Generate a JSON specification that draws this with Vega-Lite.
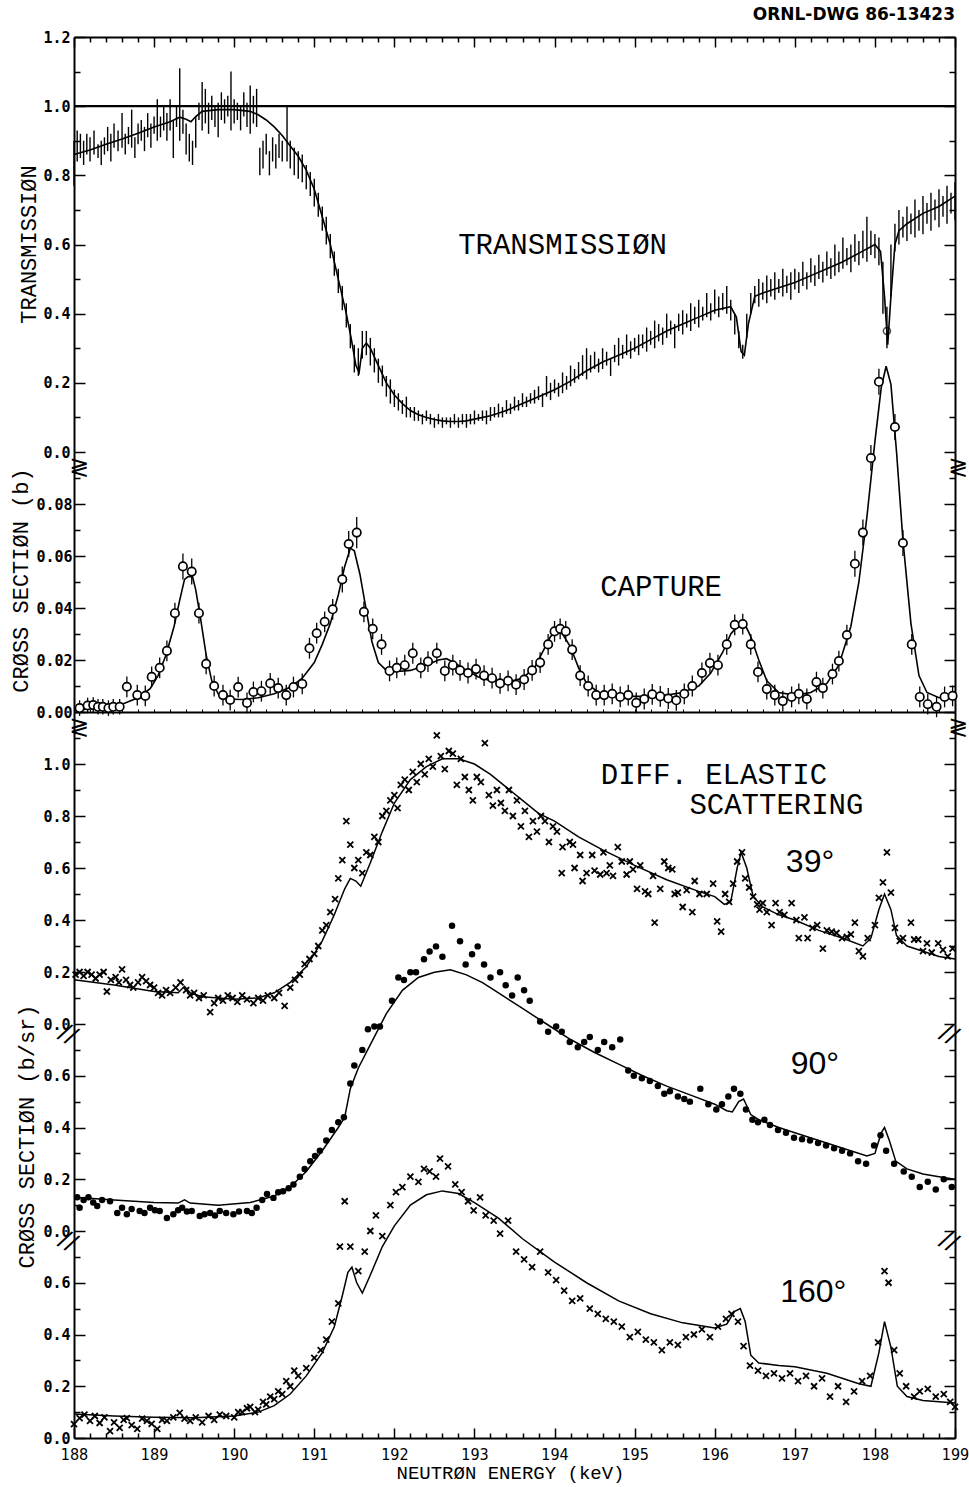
{
"$schema":"https://vega.github.io/schema/vega-lite/v6.json",
"background":"white",
"padding":{"left":8,"right":12,"top":6,"bottom":2},
"title":{"text":"ORNL-DWG 86-13423","anchor":"end","frame":"group","font":"DejaVu Sans","fontWeight":"bold","fontSize":17,"color":"black","offset":6},
"spacing":0,
"bounds":"flush",
"config":{"view":{"stroke":null},"axis":{"grid":false,"domainColor":"black","domainWidth":2,"tickColor":"black","tickWidth":1.5,"labelColor":"black","titleColor":"black","labelFont":"DejaVu Sans Mono","labelFontWeight":"bold","labelFontSize":15,"titleFont":"Liberation Mono","titleFontWeight":"normal","titleFontSize":22,"labelFlush":false,"labelOverlap":false}},
"datasets":{
"trans_fit":[{"E":188.0,"T":0.86},{"E":188.2,"T":0.873},{"E":188.4,"T":0.89},{"E":188.6,"T":0.905},{"E":188.8,"T":0.922},{"E":189.0,"T":0.94},{"E":189.2,"T":0.955},{"E":189.32,"T":0.968},{"E":189.4,"T":0.962},{"E":189.46,"T":0.955},{"E":189.52,"T":0.97},{"E":189.6,"T":0.985},{"E":189.8,"T":0.99},{"E":190.0,"T":0.99},{"E":190.2,"T":0.985},{"E":190.3,"T":0.975},{"E":190.4,"T":0.96},{"E":190.5,"T":0.94},{"E":190.6,"T":0.915},{"E":190.7,"T":0.885},{"E":190.8,"T":0.855},{"E":190.9,"T":0.815},{"E":191.0,"T":0.76},{"E":191.1,"T":0.68},{"E":191.2,"T":0.6},{"E":191.3,"T":0.5},{"E":191.4,"T":0.4},{"E":191.46,"T":0.33},{"E":191.52,"T":0.25},{"E":191.56,"T":0.23},{"E":191.6,"T":0.3},{"E":191.65,"T":0.315},{"E":191.7,"T":0.3},{"E":191.8,"T":0.25},{"E":191.9,"T":0.2},{"E":192.0,"T":0.165},{"E":192.1,"T":0.14},{"E":192.2,"T":0.12},{"E":192.3,"T":0.108},{"E":192.4,"T":0.1},{"E":192.5,"T":0.094},{"E":192.6,"T":0.09},{"E":192.7,"T":0.088},{"E":192.8,"T":0.088},{"E":192.9,"T":0.09},{"E":193.0,"T":0.095},{"E":193.2,"T":0.105},{"E":193.4,"T":0.12},{"E":193.6,"T":0.14},{"E":193.8,"T":0.16},{"E":194.0,"T":0.18},{"E":194.2,"T":0.205},{"E":194.4,"T":0.235},{"E":194.6,"T":0.26},{"E":194.8,"T":0.28},{"E":195.0,"T":0.3},{"E":195.2,"T":0.325},{"E":195.4,"T":0.35},{"E":195.6,"T":0.37},{"E":195.8,"T":0.39},{"E":196.0,"T":0.41},{"E":196.2,"T":0.42},{"E":196.27,"T":0.39},{"E":196.33,"T":0.29},{"E":196.37,"T":0.28},{"E":196.42,"T":0.37},{"E":196.5,"T":0.45},{"E":196.6,"T":0.46},{"E":196.8,"T":0.475},{"E":197.0,"T":0.49},{"E":197.2,"T":0.51},{"E":197.4,"T":0.53},{"E":197.6,"T":0.55},{"E":197.8,"T":0.575},{"E":198.0,"T":0.6},{"E":198.07,"T":0.58},{"E":198.12,"T":0.45},{"E":198.16,"T":0.31},{"E":198.2,"T":0.45},{"E":198.25,"T":0.6},{"E":198.3,"T":0.64},{"E":198.4,"T":0.66},{"E":198.6,"T":0.69},{"E":198.8,"T":0.71},{"E":199.0,"T":0.74}],
"trans_data":[{"E":188.0,"lo":0.77,"hi":0.9},{"E":188.04,"lo":0.84,"hi":0.93},{"E":188.08,"lo":0.85,"hi":0.92},{"E":188.12,"lo":0.83,"hi":0.9},{"E":188.16,"lo":0.86,"hi":0.92},{"E":188.2,"lo":0.84,"hi":0.91},{"E":188.25,"lo":0.86,"hi":0.93},{"E":188.3,"lo":0.85,"hi":0.89},{"E":188.34,"lo":0.83,"hi":0.9},{"E":188.38,"lo":0.86,"hi":0.91},{"E":188.42,"lo":0.87,"hi":0.94},{"E":188.46,"lo":0.84,"hi":0.92},{"E":188.5,"lo":0.88,"hi":0.95},{"E":188.55,"lo":0.87,"hi":0.93},{"E":188.6,"lo":0.88,"hi":0.98},{"E":188.64,"lo":0.86,"hi":0.92},{"E":188.68,"lo":0.89,"hi":0.94},{"E":188.72,"lo":0.88,"hi":0.99},{"E":188.76,"lo":0.85,"hi":0.91},{"E":188.8,"lo":0.89,"hi":0.95},{"E":188.84,"lo":0.9,"hi":0.96},{"E":188.88,"lo":0.87,"hi":0.94},{"E":188.92,"lo":0.91,"hi":0.98},{"E":188.96,"lo":0.88,"hi":0.95},{"E":189.0,"lo":0.92,"hi":0.97},{"E":189.04,"lo":0.9,"hi":1.02},{"E":189.08,"lo":0.91,"hi":0.97},{"E":189.12,"lo":0.93,"hi":1.0},{"E":189.16,"lo":0.9,"hi":0.98},{"E":189.2,"lo":0.93,"hi":1.02},{"E":189.24,"lo":0.85,"hi":0.96},{"E":189.28,"lo":0.94,"hi":1.0},{"E":189.32,"lo":0.9,"hi":1.11},{"E":189.36,"lo":0.92,"hi":0.99},{"E":189.4,"lo":0.86,"hi":0.95},{"E":189.44,"lo":0.84,"hi":0.92},{"E":189.48,"lo":0.83,"hi":0.9},{"E":189.52,"lo":0.88,"hi":0.97},{"E":189.56,"lo":0.96,"hi":1.01},{"E":189.6,"lo":0.93,"hi":1.07},{"E":189.64,"lo":0.95,"hi":1.05},{"E":189.68,"lo":0.92,"hi":1.01},{"E":189.72,"lo":0.96,"hi":1.03},{"E":189.76,"lo":0.94,"hi":1.0},{"E":189.8,"lo":0.91,"hi":1.01},{"E":189.84,"lo":0.96,"hi":1.04},{"E":189.88,"lo":0.95,"hi":1.02},{"E":189.92,"lo":0.97,"hi":1.03},{"E":189.96,"lo":0.93,"hi":1.1},{"E":190.0,"lo":0.95,"hi":1.02},{"E":190.04,"lo":0.96,"hi":1.01},{"E":190.08,"lo":0.93,"hi":1.0},{"E":190.12,"lo":0.97,"hi":1.04},{"E":190.16,"lo":0.94,"hi":1.01},{"E":190.2,"lo":0.92,"hi":1.06},{"E":190.24,"lo":0.95,"hi":1.03},{"E":190.28,"lo":0.94,"hi":1.05},{"E":190.32,"lo":0.8,"hi":0.88},{"E":190.36,"lo":0.82,"hi":0.9},{"E":190.4,"lo":0.86,"hi":0.92},{"E":190.44,"lo":0.8,"hi":0.87},{"E":190.48,"lo":0.84,"hi":0.91},{"E":190.52,"lo":0.82,"hi":0.89},{"E":190.56,"lo":0.85,"hi":0.92},{"E":190.6,"lo":0.84,"hi":0.9},{"E":190.66,"lo":0.84,"hi":1.0},{"E":190.7,"lo":0.82,"hi":0.9},{"E":190.75,"lo":0.8,"hi":0.88},{"E":190.8,"lo":0.79,"hi":0.87},{"E":190.85,"lo":0.78,"hi":0.86},{"E":190.9,"lo":0.76,"hi":0.83},{"E":190.95,"lo":0.74,"hi":0.81},{"E":191.0,"lo":0.71,"hi":0.79},{"E":191.05,"lo":0.68,"hi":0.75},{"E":191.1,"lo":0.64,"hi":0.71},{"E":191.15,"lo":0.6,"hi":0.68},{"E":191.2,"lo":0.56,"hi":0.63},{"E":191.25,"lo":0.51,"hi":0.58},{"E":191.3,"lo":0.46,"hi":0.53},{"E":191.35,"lo":0.41,"hi":0.48},{"E":191.4,"lo":0.36,"hi":0.43},{"E":191.45,"lo":0.3,"hi":0.37},{"E":191.5,"lo":0.23,"hi":0.31},{"E":191.55,"lo":0.22,"hi":0.3},{"E":191.6,"lo":0.27,"hi":0.35},{"E":191.65,"lo":0.28,"hi":0.35},{"E":191.7,"lo":0.25,"hi":0.33},{"E":191.75,"lo":0.23,"hi":0.3},{"E":191.8,"lo":0.2,"hi":0.27},{"E":191.85,"lo":0.19,"hi":0.25},{"E":191.9,"lo":0.16,"hi":0.22},{"E":191.95,"lo":0.14,"hi":0.21},{"E":192.0,"lo":0.13,"hi":0.18},{"E":192.05,"lo":0.12,"hi":0.17},{"E":192.1,"lo":0.11,"hi":0.15},{"E":192.15,"lo":0.1,"hi":0.16},{"E":192.2,"lo":0.1,"hi":0.13},{"E":192.25,"lo":0.09,"hi":0.13},{"E":192.3,"lo":0.09,"hi":0.12},{"E":192.35,"lo":0.08,"hi":0.11},{"E":192.4,"lo":0.09,"hi":0.12},{"E":192.45,"lo":0.08,"hi":0.11},{"E":192.5,"lo":0.07,"hi":0.1},{"E":192.55,"lo":0.08,"hi":0.11},{"E":192.6,"lo":0.07,"hi":0.1},{"E":192.65,"lo":0.08,"hi":0.1},{"E":192.7,"lo":0.07,"hi":0.1},{"E":192.75,"lo":0.08,"hi":0.11},{"E":192.8,"lo":0.07,"hi":0.1},{"E":192.85,"lo":0.08,"hi":0.11},{"E":192.9,"lo":0.07,"hi":0.11},{"E":192.95,"lo":0.08,"hi":0.11},{"E":193.0,"lo":0.08,"hi":0.12},{"E":193.05,"lo":0.09,"hi":0.11},{"E":193.1,"lo":0.09,"hi":0.12},{"E":193.15,"lo":0.08,"hi":0.12},{"E":193.2,"lo":0.09,"hi":0.13},{"E":193.25,"lo":0.1,"hi":0.13},{"E":193.3,"lo":0.1,"hi":0.14},{"E":193.35,"lo":0.1,"hi":0.13},{"E":193.4,"lo":0.11,"hi":0.15},{"E":193.45,"lo":0.11,"hi":0.14},{"E":193.5,"lo":0.12,"hi":0.16},{"E":193.55,"lo":0.12,"hi":0.15},{"E":193.6,"lo":0.13,"hi":0.17},{"E":193.65,"lo":0.13,"hi":0.16},{"E":193.7,"lo":0.14,"hi":0.17},{"E":193.75,"lo":0.14,"hi":0.18},{"E":193.8,"lo":0.15,"hi":0.19},{"E":193.85,"lo":0.13,"hi":0.17},{"E":193.9,"lo":0.16,"hi":0.22},{"E":193.95,"lo":0.15,"hi":0.2},{"E":194.0,"lo":0.17,"hi":0.21},{"E":194.05,"lo":0.16,"hi":0.2},{"E":194.1,"lo":0.17,"hi":0.23},{"E":194.15,"lo":0.18,"hi":0.22},{"E":194.2,"lo":0.19,"hi":0.25},{"E":194.25,"lo":0.2,"hi":0.24},{"E":194.3,"lo":0.21,"hi":0.26},{"E":194.35,"lo":0.22,"hi":0.28},{"E":194.4,"lo":0.21,"hi":0.3},{"E":194.45,"lo":0.23,"hi":0.28},{"E":194.5,"lo":0.24,"hi":0.29},{"E":194.55,"lo":0.23,"hi":0.27},{"E":194.6,"lo":0.24,"hi":0.3},{"E":194.65,"lo":0.25,"hi":0.29},{"E":194.7,"lo":0.22,"hi":0.27},{"E":194.75,"lo":0.26,"hi":0.31},{"E":194.8,"lo":0.25,"hi":0.33},{"E":194.85,"lo":0.27,"hi":0.31},{"E":194.9,"lo":0.28,"hi":0.34},{"E":194.95,"lo":0.27,"hi":0.32},{"E":195.0,"lo":0.29,"hi":0.33},{"E":195.05,"lo":0.28,"hi":0.34},{"E":195.1,"lo":0.3,"hi":0.34},{"E":195.15,"lo":0.29,"hi":0.36},{"E":195.2,"lo":0.31,"hi":0.35},{"E":195.25,"lo":0.3,"hi":0.38},{"E":195.3,"lo":0.32,"hi":0.37},{"E":195.35,"lo":0.31,"hi":0.36},{"E":195.4,"lo":0.33,"hi":0.4},{"E":195.45,"lo":0.34,"hi":0.38},{"E":195.5,"lo":0.3,"hi":0.37},{"E":195.55,"lo":0.35,"hi":0.4},{"E":195.6,"lo":0.34,"hi":0.41},{"E":195.65,"lo":0.36,"hi":0.4},{"E":195.7,"lo":0.35,"hi":0.43},{"E":195.75,"lo":0.37,"hi":0.42},{"E":195.8,"lo":0.36,"hi":0.44},{"E":195.85,"lo":0.38,"hi":0.42},{"E":195.9,"lo":0.39,"hi":0.46},{"E":195.95,"lo":0.38,"hi":0.43},{"E":196.0,"lo":0.4,"hi":0.47},{"E":196.05,"lo":0.39,"hi":0.45},{"E":196.1,"lo":0.41,"hi":0.46},{"E":196.15,"lo":0.4,"hi":0.48},{"E":196.2,"lo":0.38,"hi":0.44},{"E":196.25,"lo":0.34,"hi":0.4},{"E":196.3,"lo":0.3,"hi":0.35},{"E":196.35,"lo":0.27,"hi":0.31},{"E":196.4,"lo":0.33,"hi":0.4},{"E":196.45,"lo":0.4,"hi":0.46},{"E":196.5,"lo":0.43,"hi":0.48},{"E":196.55,"lo":0.42,"hi":0.5},{"E":196.6,"lo":0.44,"hi":0.49},{"E":196.65,"lo":0.43,"hi":0.51},{"E":196.7,"lo":0.45,"hi":0.5},{"E":196.75,"lo":0.44,"hi":0.52},{"E":196.8,"lo":0.46,"hi":0.5},{"E":196.85,"lo":0.45,"hi":0.53},{"E":196.9,"lo":0.46,"hi":0.51},{"E":196.95,"lo":0.44,"hi":0.52},{"E":197.0,"lo":0.47,"hi":0.53},{"E":197.05,"lo":0.46,"hi":0.52},{"E":197.1,"lo":0.48,"hi":0.55},{"E":197.15,"lo":0.47,"hi":0.52},{"E":197.2,"lo":0.49,"hi":0.56},{"E":197.25,"lo":0.48,"hi":0.54},{"E":197.3,"lo":0.5,"hi":0.57},{"E":197.35,"lo":0.49,"hi":0.55},{"E":197.4,"lo":0.51,"hi":0.58},{"E":197.45,"lo":0.5,"hi":0.56},{"E":197.5,"lo":0.51,"hi":0.6},{"E":197.55,"lo":0.52,"hi":0.58},{"E":197.6,"lo":0.53,"hi":0.62},{"E":197.65,"lo":0.54,"hi":0.59},{"E":197.7,"lo":0.52,"hi":0.6},{"E":197.75,"lo":0.55,"hi":0.63},{"E":197.8,"lo":0.54,"hi":0.61},{"E":197.85,"lo":0.56,"hi":0.64},{"E":197.9,"lo":0.55,"hi":0.68},{"E":197.95,"lo":0.57,"hi":0.64},{"E":198.0,"lo":0.56,"hi":0.63},{"E":198.05,"lo":0.54,"hi":0.62},{"E":198.1,"lo":0.4,"hi":0.55},{"E":198.15,"lo":0.3,"hi":0.42},{"E":198.2,"lo":0.45,"hi":0.6},{"E":198.25,"lo":0.58,"hi":0.66},{"E":198.3,"lo":0.6,"hi":0.7},{"E":198.35,"lo":0.62,"hi":0.68},{"E":198.4,"lo":0.61,"hi":0.71},{"E":198.45,"lo":0.63,"hi":0.69},{"E":198.5,"lo":0.62,"hi":0.73},{"E":198.55,"lo":0.64,"hi":0.7},{"E":198.6,"lo":0.63,"hi":0.74},{"E":198.65,"lo":0.66,"hi":0.72},{"E":198.7,"lo":0.64,"hi":0.75},{"E":198.75,"lo":0.67,"hi":0.73},{"E":198.8,"lo":0.65,"hi":0.76},{"E":198.85,"lo":0.68,"hi":0.74},{"E":198.9,"lo":0.66,"hi":0.77},{"E":198.95,"lo":0.69,"hi":0.75},{"E":199.0,"lo":0.67,"hi":0.78}],
"trans_pt":[{"E":198.15,"T":0.35}],
"cap_fit":[{"E":188.0,"C":0.0008},{"E":188.2,"C":0.0012},{"E":188.4,"C":0.0018},{"E":188.6,"C":0.003},{"E":188.8,"C":0.0055},{"E":188.95,"C":0.009},{"E":189.05,"C":0.014},{"E":189.15,"C":0.022},{"E":189.25,"C":0.033},{"E":189.32,"C":0.043},{"E":189.38,"C":0.051},{"E":189.42,"C":0.052},{"E":189.48,"C":0.052},{"E":189.52,"C":0.047},{"E":189.58,"C":0.036},{"E":189.65,"C":0.022},{"E":189.72,"C":0.012},{"E":189.8,"C":0.007},{"E":189.9,"C":0.005},{"E":190.1,"C":0.0048},{"E":190.3,"C":0.0055},{"E":190.5,"C":0.007},{"E":190.7,"C":0.0095},{"E":190.85,"C":0.013},{"E":191.0,"C":0.019},{"E":191.1,"C":0.026},{"E":191.2,"C":0.034},{"E":191.3,"C":0.045},{"E":191.38,"C":0.056},{"E":191.45,"C":0.063},{"E":191.5,"C":0.062},{"E":191.57,"C":0.053},{"E":191.65,"C":0.039},{"E":191.72,"C":0.027},{"E":191.8,"C":0.019},{"E":191.9,"C":0.016},{"E":192.0,"C":0.0155},{"E":192.2,"C":0.016},{"E":192.4,"C":0.018},{"E":192.55,"C":0.02},{"E":192.65,"C":0.0205},{"E":192.75,"C":0.019},{"E":192.9,"C":0.016},{"E":193.05,"C":0.0135},{"E":193.2,"C":0.012},{"E":193.4,"C":0.0115},{"E":193.6,"C":0.013},{"E":193.75,"C":0.017},{"E":193.85,"C":0.023},{"E":193.95,"C":0.029},{"E":194.02,"C":0.031},{"E":194.1,"C":0.03},{"E":194.2,"C":0.025},{"E":194.3,"C":0.017},{"E":194.4,"C":0.011},{"E":194.55,"C":0.0075},{"E":194.8,"C":0.0062},{"E":195.0,"C":0.006},{"E":195.3,"C":0.006},{"E":195.6,"C":0.0075},{"E":195.8,"C":0.01},{"E":195.95,"C":0.015},{"E":196.1,"C":0.023},{"E":196.2,"C":0.03},{"E":196.3,"C":0.0335},{"E":196.38,"C":0.0335},{"E":196.45,"C":0.029},{"E":196.55,"C":0.02},{"E":196.65,"C":0.012},{"E":196.8,"C":0.0075},{"E":197.0,"C":0.0065},{"E":197.2,"C":0.0075},{"E":197.4,"C":0.011},{"E":197.55,"C":0.018},{"E":197.7,"C":0.033},{"E":197.8,"C":0.05},{"E":197.9,"C":0.075},{"E":198.0,"C":0.104},{"E":198.08,"C":0.125},{"E":198.14,"C":0.133},{"E":198.2,"C":0.126},{"E":198.27,"C":0.1},{"E":198.35,"C":0.066},{"E":198.45,"C":0.034},{"E":198.55,"C":0.014},{"E":198.65,"C":0.0075},{"E":198.8,"C":0.0055},{"E":199.0,"C":0.006}],
"cap_data":[{"E":188.07,"C":0.0015,"err":0.003},{"E":188.17,"C":0.0025,"err":0.003},{"E":188.24,"C":0.0027,"err":0.003},{"E":188.3,"C":0.002,"err":0.003},{"E":188.36,"C":0.002,"err":0.003},{"E":188.43,"C":0.0015,"err":0.003},{"E":188.49,"C":0.002,"err":0.003},{"E":188.57,"C":0.002,"err":0.003},{"E":188.66,"C":0.0097,"err":0.004},{"E":188.79,"C":0.0065,"err":0.004},{"E":188.89,"C":0.0062,"err":0.004},{"E":188.97,"C":0.0135,"err":0.004},{"E":189.07,"C":0.017,"err":0.004},{"E":189.16,"C":0.0235,"err":0.004},{"E":189.26,"C":0.038,"err":0.004},{"E":189.36,"C":0.056,"err":0.005},{"E":189.47,"C":0.054,"err":0.005},{"E":189.56,"C":0.038,"err":0.004},{"E":189.65,"C":0.0185,"err":0.004},{"E":189.75,"C":0.01,"err":0.004},{"E":189.86,"C":0.0065,"err":0.004},{"E":189.95,"C":0.0046,"err":0.004},{"E":190.05,"C":0.0096,"err":0.004},{"E":190.16,"C":0.0035,"err":0.004},{"E":190.24,"C":0.0077,"err":0.004},{"E":190.34,"C":0.008,"err":0.004},{"E":190.45,"C":0.011,"err":0.004},{"E":190.55,"C":0.0092,"err":0.004},{"E":190.65,"C":0.0065,"err":0.004},{"E":190.74,"C":0.0096,"err":0.004},{"E":190.85,"C":0.0108,"err":0.004},{"E":190.94,"C":0.0245,"err":0.004},{"E":191.03,"C":0.0303,"err":0.004},{"E":191.13,"C":0.0347,"err":0.004},{"E":191.23,"C":0.0395,"err":0.004},{"E":191.35,"C":0.051,"err":0.005},{"E":191.43,"C":0.0646,"err":0.005},{"E":191.53,"C":0.069,"err":0.006},{"E":191.62,"C":0.0385,"err":0.004},{"E":191.73,"C":0.032,"err":0.004},{"E":191.84,"C":0.026,"err":0.004},{"E":191.94,"C":0.0158,"err":0.004},{"E":192.03,"C":0.017,"err":0.004},{"E":192.13,"C":0.018,"err":0.004},{"E":192.23,"C":0.0226,"err":0.004},{"E":192.33,"C":0.017,"err":0.004},{"E":192.42,"C":0.0194,"err":0.004},{"E":192.53,"C":0.0226,"err":0.004},{"E":192.63,"C":0.0158,"err":0.004},{"E":192.73,"C":0.018,"err":0.004},{"E":192.82,"C":0.016,"err":0.004},{"E":192.92,"C":0.015,"err":0.004},{"E":193.02,"C":0.0165,"err":0.004},{"E":193.12,"C":0.014,"err":0.004},{"E":193.22,"C":0.013,"err":0.004},{"E":193.32,"C":0.011,"err":0.004},{"E":193.42,"C":0.012,"err":0.004},{"E":193.52,"C":0.0105,"err":0.004},{"E":193.62,"C":0.0125,"err":0.004},{"E":193.72,"C":0.016,"err":0.004},{"E":193.82,"C":0.019,"err":0.004},{"E":193.92,"C":0.026,"err":0.004},{"E":194.0,"C":0.031,"err":0.004},{"E":194.07,"C":0.032,"err":0.004},{"E":194.14,"C":0.031,"err":0.004},{"E":194.22,"C":0.024,"err":0.004},{"E":194.32,"C":0.014,"err":0.004},{"E":194.42,"C":0.01,"err":0.004},{"E":194.52,"C":0.0065,"err":0.004},{"E":194.62,"C":0.0065,"err":0.004},{"E":194.72,"C":0.007,"err":0.004},{"E":194.82,"C":0.0058,"err":0.004},{"E":194.92,"C":0.0065,"err":0.004},{"E":195.02,"C":0.0035,"err":0.004},{"E":195.12,"C":0.005,"err":0.004},{"E":195.22,"C":0.0068,"err":0.004},{"E":195.32,"C":0.006,"err":0.004},{"E":195.42,"C":0.0052,"err":0.004},{"E":195.52,"C":0.0045,"err":0.004},{"E":195.62,"C":0.007,"err":0.004},{"E":195.72,"C":0.01,"err":0.004},{"E":195.84,"C":0.015,"err":0.004},{"E":195.94,"C":0.0188,"err":0.004},{"E":196.04,"C":0.018,"err":0.004},{"E":196.15,"C":0.026,"err":0.004},{"E":196.25,"C":0.0335,"err":0.004},{"E":196.35,"C":0.0338,"err":0.004},{"E":196.45,"C":0.026,"err":0.004},{"E":196.54,"C":0.0154,"err":0.004},{"E":196.65,"C":0.0088,"err":0.004},{"E":196.75,"C":0.0065,"err":0.004},{"E":196.85,"C":0.0042,"err":0.004},{"E":196.96,"C":0.0058,"err":0.004},{"E":197.05,"C":0.007,"err":0.004},{"E":197.15,"C":0.005,"err":0.004},{"E":197.27,"C":0.0115,"err":0.004},{"E":197.35,"C":0.0092,"err":0.004},{"E":197.47,"C":0.0146,"err":0.004},{"E":197.55,"C":0.0196,"err":0.004},{"E":197.65,"C":0.0296,"err":0.004},{"E":197.75,"C":0.057,"err":0.005},{"E":197.85,"C":0.069,"err":0.005},{"E":197.95,"C":0.0977,"err":0.005},{"E":198.05,"C":0.127,"err":0.005},{"E":198.25,"C":0.1096,"err":0.005},{"E":198.35,"C":0.065,"err":0.005},{"E":198.46,"C":0.026,"err":0.004},{"E":198.56,"C":0.0058,"err":0.004},{"E":198.66,"C":0.003,"err":0.004},{"E":198.77,"C":0.002,"err":0.004},{"E":198.87,"C":0.0058,"err":0.004},{"E":198.97,"C":0.0062,"err":0.004}],
"s39_fit":[{"E":188.0,"v":0.17},{"E":188.5,"v":0.15},{"E":189.0,"v":0.125},{"E":189.3,"v":0.12},{"E":189.38,"v":0.145},{"E":189.45,"v":0.12},{"E":189.6,"v":0.105},{"E":190.0,"v":0.095},{"E":190.3,"v":0.1},{"E":190.5,"v":0.12},{"E":190.7,"v":0.16},{"E":190.9,"v":0.22},{"E":191.1,"v":0.32},{"E":191.25,"v":0.42},{"E":191.38,"v":0.52},{"E":191.45,"v":0.56},{"E":191.52,"v":0.55},{"E":191.58,"v":0.53},{"E":191.7,"v":0.62},{"E":191.85,"v":0.74},{"E":192.0,"v":0.85},{"E":192.2,"v":0.94},{"E":192.4,"v":0.99},{"E":192.6,"v":1.02},{"E":192.8,"v":1.02},{"E":193.0,"v":1.0},{"E":193.2,"v":0.96},{"E":193.4,"v":0.91},{"E":193.6,"v":0.86},{"E":193.8,"v":0.81},{"E":194.0,"v":0.78},{"E":194.3,"v":0.72},{"E":194.6,"v":0.67},{"E":195.0,"v":0.61},{"E":195.4,"v":0.555},{"E":195.8,"v":0.51},{"E":196.0,"v":0.49},{"E":196.12,"v":0.46},{"E":196.2,"v":0.47},{"E":196.28,"v":0.6},{"E":196.33,"v":0.66},{"E":196.4,"v":0.6},{"E":196.48,"v":0.49},{"E":196.6,"v":0.45},{"E":196.8,"v":0.42},{"E":197.0,"v":0.4},{"E":197.3,"v":0.36},{"E":197.6,"v":0.33},{"E":197.85,"v":0.3},{"E":197.95,"v":0.33},{"E":198.05,"v":0.44},{"E":198.12,"v":0.5},{"E":198.2,"v":0.44},{"E":198.27,"v":0.34},{"E":198.4,"v":0.3},{"E":198.6,"v":0.28},{"E":198.8,"v":0.26},{"E":199.0,"v":0.25}],
"s39_data":[{"E":188.02,"v":0.19},{"E":188.07,"v":0.2},{"E":188.12,"v":0.185},{"E":188.17,"v":0.2},{"E":188.22,"v":0.19},{"E":188.27,"v":0.175},{"E":188.32,"v":0.19},{"E":188.37,"v":0.2},{"E":188.41,"v":0.125},{"E":188.46,"v":0.17},{"E":188.52,"v":0.18},{"E":188.56,"v":0.16},{"E":188.6,"v":0.21},{"E":188.65,"v":0.17},{"E":188.7,"v":0.15},{"E":188.74,"v":0.14},{"E":188.8,"v":0.16},{"E":188.85,"v":0.18},{"E":188.9,"v":0.165},{"E":188.95,"v":0.15},{"E":189.0,"v":0.14},{"E":189.05,"v":0.12},{"E":189.1,"v":0.11},{"E":189.15,"v":0.13},{"E":189.2,"v":0.12},{"E":189.27,"v":0.14},{"E":189.33,"v":0.16},{"E":189.4,"v":0.13},{"E":189.45,"v":0.11},{"E":189.5,"v":0.12},{"E":189.56,"v":0.1},{"E":189.62,"v":0.11},{"E":189.7,"v":0.046},{"E":189.75,"v":0.08},{"E":189.8,"v":0.1},{"E":189.86,"v":0.09},{"E":189.92,"v":0.11},{"E":189.98,"v":0.1},{"E":190.04,"v":0.085},{"E":190.1,"v":0.11},{"E":190.16,"v":0.095},{"E":190.24,"v":0.08},{"E":190.3,"v":0.1},{"E":190.36,"v":0.09},{"E":190.42,"v":0.11},{"E":190.5,"v":0.1},{"E":190.56,"v":0.12},{"E":190.63,"v":0.07},{"E":190.7,"v":0.14},{"E":190.76,"v":0.17},{"E":190.82,"v":0.19},{"E":190.88,"v":0.23},{"E":190.94,"v":0.25},{"E":191.0,"v":0.27},{"E":191.05,"v":0.3},{"E":191.1,"v":0.36},{"E":191.15,"v":0.38},{"E":191.2,"v":0.43},{"E":191.26,"v":0.48},{"E":191.3,"v":0.56},{"E":191.35,"v":0.63},{"E":191.4,"v":0.78},{"E":191.45,"v":0.69},{"E":191.5,"v":0.6},{"E":191.55,"v":0.63},{"E":191.6,"v":0.58},{"E":191.65,"v":0.66},{"E":191.7,"v":0.65},{"E":191.75,"v":0.72},{"E":191.8,"v":0.7},{"E":191.85,"v":0.8},{"E":191.9,"v":0.82},{"E":191.95,"v":0.86},{"E":192.0,"v":0.88},{"E":192.04,"v":0.83},{"E":192.08,"v":0.92},{"E":192.13,"v":0.94},{"E":192.18,"v":0.9},{"E":192.23,"v":0.97},{"E":192.28,"v":0.93},{"E":192.33,"v":1.0},{"E":192.38,"v":0.96},{"E":192.43,"v":1.02},{"E":192.48,"v":0.99},{"E":192.53,"v":1.11},{"E":192.58,"v":1.03},{"E":192.63,"v":0.98},{"E":192.68,"v":1.05},{"E":192.73,"v":1.04},{"E":192.78,"v":0.92},{"E":192.83,"v":1.02},{"E":192.88,"v":0.95},{"E":192.93,"v":0.9},{"E":192.98,"v":0.86},{"E":193.03,"v":0.95},{"E":193.08,"v":0.93},{"E":193.13,"v":1.08},{"E":193.18,"v":0.88},{"E":193.23,"v":0.84},{"E":193.28,"v":0.9},{"E":193.33,"v":0.85},{"E":193.38,"v":0.82},{"E":193.43,"v":0.9},{"E":193.48,"v":0.8},{"E":193.53,"v":0.86},{"E":193.58,"v":0.76},{"E":193.63,"v":0.82},{"E":193.68,"v":0.72},{"E":193.73,"v":0.78},{"E":193.78,"v":0.74},{"E":193.83,"v":0.8},{"E":193.88,"v":0.78},{"E":193.93,"v":0.7},{"E":193.98,"v":0.76},{"E":194.03,"v":0.74},{"E":194.09,"v":0.58},{"E":194.1,"v":0.68},{"E":194.19,"v":0.7},{"E":194.23,"v":0.69},{"E":194.25,"v":0.6},{"E":194.32,"v":0.65},{"E":194.35,"v":0.55},{"E":194.4,"v":0.58},{"E":194.47,"v":0.65},{"E":194.5,"v":0.59},{"E":194.57,"v":0.575},{"E":194.61,"v":0.66},{"E":194.65,"v":0.58},{"E":194.69,"v":0.61},{"E":194.73,"v":0.57},{"E":194.79,"v":0.68},{"E":194.84,"v":0.625},{"E":194.9,"v":0.575},{"E":194.94,"v":0.625},{"E":194.98,"v":0.595},{"E":195.03,"v":0.52},{"E":195.07,"v":0.61},{"E":195.13,"v":0.51},{"E":195.17,"v":0.5},{"E":195.23,"v":0.57},{"E":195.25,"v":0.39},{"E":195.32,"v":0.52},{"E":195.37,"v":0.625},{"E":195.42,"v":0.6},{"E":195.47,"v":0.595},{"E":195.5,"v":0.5},{"E":195.54,"v":0.505},{"E":195.6,"v":0.45},{"E":195.65,"v":0.515},{"E":195.72,"v":0.43},{"E":195.75,"v":0.55},{"E":195.81,"v":0.5},{"E":195.9,"v":0.5},{"E":195.98,"v":0.54},{"E":196.03,"v":0.395},{"E":196.08,"v":0.355},{"E":196.13,"v":0.5},{"E":196.18,"v":0.47},{"E":196.23,"v":0.54},{"E":196.28,"v":0.625},{"E":196.34,"v":0.66},{"E":196.38,"v":0.56},{"E":196.43,"v":0.525},{"E":196.48,"v":0.49},{"E":196.53,"v":0.46},{"E":196.56,"v":0.44},{"E":196.6,"v":0.465},{"E":196.65,"v":0.43},{"E":196.71,"v":0.38},{"E":196.76,"v":0.465},{"E":196.81,"v":0.43},{"E":196.87,"v":0.42},{"E":196.96,"v":0.465},{"E":197.02,"v":0.4},{"E":197.05,"v":0.33},{"E":197.12,"v":0.41},{"E":197.16,"v":0.33},{"E":197.22,"v":0.37},{"E":197.28,"v":0.38},{"E":197.35,"v":0.29},{"E":197.4,"v":0.36},{"E":197.46,"v":0.355},{"E":197.52,"v":0.35},{"E":197.59,"v":0.33},{"E":197.65,"v":0.335},{"E":197.7,"v":0.345},{"E":197.75,"v":0.39},{"E":197.8,"v":0.28},{"E":197.85,"v":0.26},{"E":197.91,"v":0.33},{"E":198.0,"v":0.38},{"E":198.05,"v":0.485},{"E":198.1,"v":0.545},{"E":198.15,"v":0.66},{"E":198.2,"v":0.505},{"E":198.25,"v":0.37},{"E":198.31,"v":0.32},{"E":198.35,"v":0.33},{"E":198.45,"v":0.39},{"E":198.49,"v":0.325},{"E":198.54,"v":0.325},{"E":198.6,"v":0.28},{"E":198.65,"v":0.31},{"E":198.71,"v":0.275},{"E":198.79,"v":0.31},{"E":198.85,"v":0.285},{"E":198.91,"v":0.26},{"E":198.97,"v":0.29}],
"s90_fit":[{"E":188.0,"v":0.13},{"E":188.5,"v":0.12},{"E":189.0,"v":0.11},{"E":189.3,"v":0.108},{"E":189.38,"v":0.12},{"E":189.45,"v":0.108},{"E":189.8,"v":0.1},{"E":190.2,"v":0.11},{"E":190.5,"v":0.135},{"E":190.7,"v":0.17},{"E":190.9,"v":0.23},{"E":191.1,"v":0.31},{"E":191.3,"v":0.4},{"E":191.38,"v":0.44},{"E":191.45,"v":0.55},{"E":191.55,"v":0.63},{"E":191.7,"v":0.72},{"E":191.9,"v":0.84},{"E":192.1,"v":0.93},{"E":192.3,"v":0.98},{"E":192.5,"v":1.0},{"E":192.7,"v":1.01},{"E":192.9,"v":0.99},{"E":193.1,"v":0.96},{"E":193.3,"v":0.92},{"E":193.6,"v":0.86},{"E":193.9,"v":0.8},{"E":194.2,"v":0.74},{"E":194.5,"v":0.69},{"E":194.8,"v":0.645},{"E":195.1,"v":0.6},{"E":195.4,"v":0.56},{"E":195.7,"v":0.525},{"E":196.0,"v":0.49},{"E":196.15,"v":0.465},{"E":196.22,"v":0.46},{"E":196.3,"v":0.5},{"E":196.36,"v":0.51},{"E":196.45,"v":0.45},{"E":196.55,"v":0.43},{"E":196.8,"v":0.4},{"E":197.0,"v":0.38},{"E":197.3,"v":0.35},{"E":197.6,"v":0.32},{"E":197.9,"v":0.29},{"E":198.0,"v":0.3},{"E":198.08,"v":0.38},{"E":198.12,"v":0.4},{"E":198.18,"v":0.35},{"E":198.26,"v":0.27},{"E":198.4,"v":0.24},{"E":198.6,"v":0.22},{"E":198.8,"v":0.21},{"E":199.0,"v":0.2}],
"s90_data":[{"E":188.04,"v":0.13},{"E":188.07,"v":0.09},{"E":188.12,"v":0.12},{"E":188.18,"v":0.13},{"E":188.24,"v":0.11},{"E":188.29,"v":0.097},{"E":188.35,"v":0.12},{"E":188.45,"v":0.115},{"E":188.54,"v":0.07},{"E":188.6,"v":0.09},{"E":188.66,"v":0.065},{"E":188.72,"v":0.085},{"E":188.82,"v":0.077},{"E":188.88,"v":0.07},{"E":188.95,"v":0.09},{"E":189.01,"v":0.08},{"E":189.07,"v":0.077},{"E":189.16,"v":0.05},{"E":189.24,"v":0.065},{"E":189.3,"v":0.08},{"E":189.35,"v":0.09},{"E":189.41,"v":0.075},{"E":189.47,"v":0.077},{"E":189.57,"v":0.058},{"E":189.63,"v":0.065},{"E":189.7,"v":0.07},{"E":189.76,"v":0.06},{"E":189.82,"v":0.077},{"E":189.9,"v":0.07},{"E":189.99,"v":0.065},{"E":190.06,"v":0.075},{"E":190.16,"v":0.077},{"E":190.22,"v":0.07},{"E":190.28,"v":0.09},{"E":190.35,"v":0.12},{"E":190.41,"v":0.143},{"E":190.49,"v":0.128},{"E":190.55,"v":0.15},{"E":190.61,"v":0.154},{"E":190.68,"v":0.165},{"E":190.74,"v":0.18},{"E":190.82,"v":0.21},{"E":190.88,"v":0.24},{"E":190.95,"v":0.27},{"E":191.01,"v":0.29},{"E":191.07,"v":0.31},{"E":191.15,"v":0.35},{"E":191.22,"v":0.39},{"E":191.3,"v":0.42},{"E":191.37,"v":0.44},{"E":191.45,"v":0.57},{"E":191.5,"v":0.64},{"E":191.6,"v":0.7},{"E":191.67,"v":0.78},{"E":191.75,"v":0.79},{"E":191.82,"v":0.79},{"E":191.97,"v":0.89},{"E":192.05,"v":0.98},{"E":192.12,"v":0.97},{"E":192.2,"v":1.0},{"E":192.27,"v":1.0},{"E":192.37,"v":1.05},{"E":192.44,"v":1.08},{"E":192.52,"v":1.1},{"E":192.6,"v":1.06},{"E":192.72,"v":1.18},{"E":192.82,"v":1.12},{"E":192.89,"v":1.03},{"E":192.97,"v":1.07},{"E":193.04,"v":1.1},{"E":193.12,"v":1.03},{"E":193.2,"v":0.98},{"E":193.32,"v":1.0},{"E":193.39,"v":0.95},{"E":193.47,"v":0.91},{"E":193.54,"v":0.98},{"E":193.62,"v":0.93},{"E":193.69,"v":0.89},{"E":193.82,"v":0.81},{"E":193.92,"v":0.77},{"E":194.02,"v":0.79},{"E":194.09,"v":0.77},{"E":194.19,"v":0.73},{"E":194.29,"v":0.71},{"E":194.37,"v":0.73},{"E":194.44,"v":0.75},{"E":194.54,"v":0.7},{"E":194.62,"v":0.73},{"E":194.72,"v":0.71},{"E":194.82,"v":0.74},{"E":194.92,"v":0.62},{"E":194.99,"v":0.6},{"E":195.09,"v":0.59},{"E":195.19,"v":0.58},{"E":195.29,"v":0.56},{"E":195.37,"v":0.53},{"E":195.44,"v":0.54},{"E":195.54,"v":0.52},{"E":195.62,"v":0.51},{"E":195.69,"v":0.5},{"E":195.82,"v":0.55},{"E":195.92,"v":0.49},{"E":196.02,"v":0.47},{"E":196.09,"v":0.49},{"E":196.17,"v":0.52},{"E":196.24,"v":0.55},{"E":196.32,"v":0.53},{"E":196.39,"v":0.47},{"E":196.47,"v":0.43},{"E":196.54,"v":0.42},{"E":196.62,"v":0.43},{"E":196.69,"v":0.41},{"E":196.79,"v":0.39},{"E":196.89,"v":0.38},{"E":196.99,"v":0.36},{"E":197.09,"v":0.355},{"E":197.19,"v":0.35},{"E":197.29,"v":0.34},{"E":197.39,"v":0.33},{"E":197.49,"v":0.32},{"E":197.59,"v":0.31},{"E":197.69,"v":0.3},{"E":197.79,"v":0.27},{"E":197.89,"v":0.26},{"E":197.99,"v":0.33},{"E":198.07,"v":0.37},{"E":198.14,"v":0.31},{"E":198.24,"v":0.26},{"E":198.36,"v":0.23},{"E":198.46,"v":0.21},{"E":198.56,"v":0.17},{"E":198.66,"v":0.19},{"E":198.76,"v":0.16},{"E":198.86,"v":0.2},{"E":198.96,"v":0.17}],
"s160_fit":[{"E":188.0,"v":0.093},{"E":188.5,"v":0.085},{"E":189.0,"v":0.08},{"E":189.5,"v":0.078},{"E":190.0,"v":0.085},{"E":190.3,"v":0.1},{"E":190.5,"v":0.125},{"E":190.7,"v":0.17},{"E":190.9,"v":0.24},{"E":191.1,"v":0.33},{"E":191.25,"v":0.43},{"E":191.35,"v":0.55},{"E":191.42,"v":0.64},{"E":191.47,"v":0.66},{"E":191.53,"v":0.6},{"E":191.6,"v":0.56},{"E":191.7,"v":0.63},{"E":191.85,"v":0.74},{"E":192.0,"v":0.82},{"E":192.2,"v":0.9},{"E":192.4,"v":0.94},{"E":192.6,"v":0.955},{"E":192.8,"v":0.945},{"E":193.0,"v":0.91},{"E":193.3,"v":0.85},{"E":193.6,"v":0.77},{"E":194.0,"v":0.68},{"E":194.4,"v":0.6},{"E":194.8,"v":0.53},{"E":195.2,"v":0.48},{"E":195.6,"v":0.445},{"E":196.0,"v":0.425},{"E":196.15,"v":0.44},{"E":196.25,"v":0.49},{"E":196.32,"v":0.5},{"E":196.38,"v":0.45},{"E":196.45,"v":0.32},{"E":196.55,"v":0.29},{"E":196.8,"v":0.28},{"E":197.0,"v":0.275},{"E":197.4,"v":0.25},{"E":197.8,"v":0.21},{"E":197.95,"v":0.2},{"E":198.05,"v":0.33},{"E":198.12,"v":0.45},{"E":198.2,"v":0.35},{"E":198.28,"v":0.2},{"E":198.4,"v":0.16},{"E":198.6,"v":0.145},{"E":198.8,"v":0.14},{"E":199.0,"v":0.135}],
"s160_data":[{"E":188.0,"v":0.054},{"E":188.07,"v":0.077},{"E":188.13,"v":0.09},{"E":188.2,"v":0.066},{"E":188.26,"v":0.085},{"E":188.32,"v":0.058},{"E":188.38,"v":0.08},{"E":188.45,"v":0.027},{"E":188.5,"v":0.06},{"E":188.57,"v":0.039},{"E":188.62,"v":0.07},{"E":188.66,"v":0.077},{"E":188.72,"v":0.05},{"E":188.79,"v":0.035},{"E":188.85,"v":0.075},{"E":188.91,"v":0.066},{"E":188.97,"v":0.055},{"E":189.04,"v":0.035},{"E":189.1,"v":0.07},{"E":189.16,"v":0.066},{"E":189.24,"v":0.08},{"E":189.32,"v":0.097},{"E":189.38,"v":0.075},{"E":189.45,"v":0.066},{"E":189.52,"v":0.08},{"E":189.6,"v":0.06},{"E":189.68,"v":0.085},{"E":189.75,"v":0.07},{"E":189.82,"v":0.09},{"E":189.9,"v":0.085},{"E":190.0,"v":0.08},{"E":190.05,"v":0.1},{"E":190.1,"v":0.1},{"E":190.16,"v":0.115},{"E":190.2,"v":0.12},{"E":190.26,"v":0.1},{"E":190.3,"v":0.11},{"E":190.36,"v":0.14},{"E":190.4,"v":0.13},{"E":190.45,"v":0.16},{"E":190.5,"v":0.15},{"E":190.55,"v":0.18},{"E":190.6,"v":0.17},{"E":190.65,"v":0.22},{"E":190.7,"v":0.2},{"E":190.75,"v":0.26},{"E":190.8,"v":0.24},{"E":190.9,"v":0.27},{"E":191.0,"v":0.31},{"E":191.08,"v":0.34},{"E":191.15,"v":0.38},{"E":191.22,"v":0.45},{"E":191.3,"v":0.52},{"E":191.32,"v":0.74},{"E":191.38,"v":0.915},{"E":191.45,"v":0.74},{"E":191.55,"v":0.645},{"E":191.63,"v":0.72},{"E":191.7,"v":0.8},{"E":191.77,"v":0.86},{"E":191.85,"v":0.78},{"E":191.95,"v":0.9},{"E":192.02,"v":0.95},{"E":192.1,"v":0.97},{"E":192.2,"v":1.01},{"E":192.3,"v":0.99},{"E":192.37,"v":1.04},{"E":192.44,"v":1.03},{"E":192.52,"v":1.01},{"E":192.57,"v":1.08},{"E":192.67,"v":1.05},{"E":192.76,"v":0.98},{"E":192.84,"v":0.95},{"E":192.92,"v":0.915},{"E":192.99,"v":0.88},{"E":193.07,"v":0.93},{"E":193.14,"v":0.86},{"E":193.24,"v":0.84},{"E":193.32,"v":0.79},{"E":193.42,"v":0.84},{"E":193.52,"v":0.72},{"E":193.62,"v":0.69},{"E":193.72,"v":0.66},{"E":193.82,"v":0.72},{"E":193.92,"v":0.64},{"E":194.02,"v":0.61},{"E":194.12,"v":0.57},{"E":194.22,"v":0.53},{"E":194.32,"v":0.54},{"E":194.44,"v":0.5},{"E":194.54,"v":0.48},{"E":194.64,"v":0.46},{"E":194.74,"v":0.45},{"E":194.84,"v":0.43},{"E":194.94,"v":0.39},{"E":195.04,"v":0.41},{"E":195.14,"v":0.38},{"E":195.24,"v":0.37},{"E":195.34,"v":0.34},{"E":195.44,"v":0.37},{"E":195.54,"v":0.36},{"E":195.64,"v":0.39},{"E":195.74,"v":0.4},{"E":195.84,"v":0.42},{"E":195.94,"v":0.39},{"E":196.04,"v":0.43},{"E":196.14,"v":0.46},{"E":196.21,"v":0.48},{"E":196.29,"v":0.45},{"E":196.36,"v":0.355},{"E":196.44,"v":0.28},{"E":196.54,"v":0.26},{"E":196.64,"v":0.24},{"E":196.74,"v":0.25},{"E":196.84,"v":0.23},{"E":196.94,"v":0.25},{"E":197.04,"v":0.22},{"E":197.14,"v":0.24},{"E":197.24,"v":0.2},{"E":197.34,"v":0.23},{"E":197.44,"v":0.16},{"E":197.54,"v":0.2},{"E":197.64,"v":0.14},{"E":197.74,"v":0.18},{"E":197.84,"v":0.22},{"E":197.94,"v":0.24},{"E":198.04,"v":0.37},{"E":198.12,"v":0.645},{"E":198.17,"v":0.6},{"E":198.24,"v":0.34},{"E":198.31,"v":0.25},{"E":198.39,"v":0.2},{"E":198.49,"v":0.16},{"E":198.56,"v":0.18},{"E":198.66,"v":0.19},{"E":198.76,"v":0.16},{"E":198.86,"v":0.17},{"E":198.94,"v":0.14},{"E":199.0,"v":0.12}]
},
"vconcat":[
{
"width":881,"height":415,
"resolve":{"axis":{"x":"independent","y":"independent"}},
"layer":[
{"data":{"name":"trans_data"},"mark":{"type":"rule","color":"black","strokeWidth":1.4},
 "encoding":{
  "x":{"field":"E","type":"quantitative","scale":{"domain":[188,199],"nice":false,"zero":false},
   "axis":{"orient":"top","values":[188,188.2,188.4,188.6,188.8,189,189.2,189.4,189.6,189.8,190,190.2,190.4,190.6,190.8,191,191.2,191.4,191.6,191.8,192,192.2,192.4,192.6,192.8,193,193.2,193.4,193.6,193.8,194,194.2,194.4,194.6,194.8,195,195.2,195.4,195.6,195.8,196,196.2,196.4,196.6,196.8,197,197.2,197.4,197.6,197.8,198,198.2,198.4,198.6,198.8,199],"labels":false,"title":null,"tickSize":{"condition":{"test":"abs(datum.value-round(datum.value))<0.001","value":-10},"value":-5}}},
  "y":{"field":"lo","type":"quantitative","scale":{"domain":[0,1.2],"nice":false},
   "axis":{"orient":"left","values":[0,0.1,0.2,0.3,0.4,0.5,0.6,0.7,0.8,0.9,1,1.1,1.2],"labelExpr":"abs(datum.value*5-round(datum.value*5))<0.001 ? format(datum.value,'.1f') : ''","tickSize":{"condition":{"test":"abs(datum.value*5-round(datum.value*5))<0.001","value":-11},"value":-6},"labelPadding":15,"title":"TRANSMISSIØN","titleX":-46,"titleY":207,"titleBaseline":"middle","titleAlign":"center","titleAngle":-90}},
  "y2":{"field":"hi"}}},
{"data":{"name":"trans_fit"},"mark":{"type":"line","color":"black","strokeWidth":1.6},
 "encoding":{"x":{"field":"E","type":"quantitative","scale":{"domain":[188,199],"nice":false,"zero":false},"axis":null},
  "y":{"field":"T","type":"quantitative","scale":{"domain":[0,1.2],"nice":false},
   "axis":{"orient":"right","values":[0,0.1,0.2,0.3,0.4,0.5,0.6,0.7,0.8,0.9,1,1.1,1.2],"labels":false,"title":null,"tickSize":{"condition":{"test":"abs(datum.value*5-round(datum.value*5))<0.001","value":-11},"value":-6}}}}},
{"data":{"values":[{}]},"mark":{"type":"rule","color":"black","strokeWidth":2.2},
 "encoding":{"y":{"datum":1,"type":"quantitative","scale":{"domain":[0,1.2],"nice":false},"axis":null}}},
{"data":{"name":"trans_pt"},"mark":{"type":"point","shape":"circle","filled":false,"color":"black","strokeWidth":1.5,"size":50},
 "encoding":{"x":{"field":"E","type":"quantitative","scale":{"domain":[188,199],"nice":false,"zero":false},"axis":null},"y":{"field":"T","type":"quantitative","scale":{"domain":[0,1.2],"nice":false},"axis":null}}},
{"data":{"values":[{}]},"mark":{"type":"text","text":"TRANSMISSIØN","font":"Liberation Mono","fontSize":29,"align":"center","baseline":"middle","color":"black"},
 "encoding":{"x":{"datum":194.1,"type":"quantitative","scale":{"domain":[188,199],"nice":false,"zero":false},"axis":null},"y":{"datum":0.6,"type":"quantitative","scale":{"domain":[0,1.2],"nice":false},"axis":null}}}
]},
{
"width":881,"height":260,
"resolve":{"axis":{"x":"independent","y":"independent"}},
"layer":[
{"data":{"name":"cap_fit"},"mark":{"type":"line","color":"black","strokeWidth":1.6},
 "encoding":{
  "x":{"field":"E","type":"quantitative","scale":{"domain":[188,199],"nice":false,"zero":false},
   "axis":{"orient":"bottom","values":[188,188.2,188.4,188.6,188.8,189,189.2,189.4,189.6,189.8,190,190.2,190.4,190.6,190.8,191,191.2,191.4,191.6,191.8,192,192.2,192.4,192.6,192.8,193,193.2,193.4,193.6,193.8,194,194.2,194.4,194.6,194.8,195,195.2,195.4,195.6,195.8,196,196.2,196.4,196.6,196.8,197,197.2,197.4,197.6,197.8,198,198.2,198.4,198.6,198.8,199],"labels":false,"title":null,"tickSize":-3,"tickWidth":1}},
  "y":{"field":"C","type":"quantitative","scale":{"domain":[0,0.1],"nice":false},
   "axis":{"orient":"left","values":[0,0.01,0.02,0.03,0.04,0.05,0.06,0.07,0.08,0.09],"labelExpr":"abs(datum.value*50-round(datum.value*50))<0.001 ? format(datum.value,'.2f') : ''","tickSize":{"condition":{"test":"abs(datum.value*50-round(datum.value*50))<0.001","value":-11},"value":-6},"labelPadding":13,"title":"CRØSS SECTIØN (b)","titleX":-54,"titleY":128,"titleBaseline":"middle","titleAlign":"center","titleAngle":-90}}}},
{"data":{"name":"cap_data"},"mark":{"type":"errorbar","color":"black","thickness":1.3},
 "encoding":{"x":{"field":"E","type":"quantitative","scale":{"domain":[188,199],"nice":false,"zero":false},"axis":null},
  "y":{"field":"C","type":"quantitative","scale":{"domain":[0,0.1],"nice":false},"axis":null},"yError":{"field":"err"}}},
{"data":{"name":"cap_data"},"mark":{"type":"point","shape":"circle","filled":true,"fill":"white","stroke":"black","strokeWidth":1.7,"size":70,"opacity":1},
 "encoding":{"x":{"field":"E","type":"quantitative","scale":{"domain":[188,199],"nice":false,"zero":false},"axis":null},
  "y":{"field":"C","type":"quantitative","scale":{"domain":[0,0.1],"nice":false},
   "axis":{"orient":"right","values":[0,0.01,0.02,0.03,0.04,0.05,0.06,0.07,0.08,0.09],"labels":false,"title":null,"tickSize":{"condition":{"test":"abs(datum.value*50-round(datum.value*50))<0.001","value":-11},"value":-6}}}}},
{"data":{"values":[{}]},"mark":{"type":"text","text":"CAPTURE","font":"Liberation Mono","fontSize":29,"align":"center","baseline":"middle","color":"black"},
 "encoding":{"x":{"datum":195.33,"type":"quantitative","scale":{"domain":[188,199],"nice":false,"zero":false},"axis":null},"y":{"datum":0.048,"type":"quantitative","scale":{"domain":[0,0.1],"nice":false},"axis":null}}},
{"data":{"values":[{}]},"mark":{"type":"text","text":"≷","font":"DejaVu Sans","fontSize":24,"align":"center","baseline":"top","dy":4,"dx":5,"color":"black"},
 "encoding":{"x":{"datum":188,"type":"quantitative","scale":{"domain":[188,199],"nice":false,"zero":false},"axis":null},"y":{"datum":0.1,"type":"quantitative","scale":{"domain":[0,0.1],"nice":false},"axis":null}}},
{"data":{"values":[{}]},"mark":{"type":"text","text":"≷","font":"DejaVu Sans","fontSize":24,"align":"center","baseline":"top","dy":4,"dx":3,"color":"black"},
 "encoding":{"x":{"datum":199,"type":"quantitative","scale":{"domain":[188,199],"nice":false,"zero":false},"axis":null},"y":{"datum":0.1,"type":"quantitative","scale":{"domain":[0,0.1],"nice":false},"axis":null}}}
]},
{
"width":881,"height":312,
"resolve":{"axis":{"x":"independent","y":"independent"}},
"layer":[
{"data":{"name":"s39_fit"},"mark":{"type":"line","color":"black","strokeWidth":1.5},
 "encoding":{"x":{"field":"E","type":"quantitative","scale":{"domain":[188,199],"nice":false,"zero":false},"axis":null},
  "y":{"field":"v","type":"quantitative","scale":{"domain":[0,1.2],"nice":false},
   "axis":{"orient":"left","values":[0,0.1,0.2,0.3,0.4,0.5,0.6,0.7,0.8,0.9,1,1.1],"labelExpr":"abs(datum.value*5-round(datum.value*5))<0.001 ? format(datum.value,'.1f') : ''","tickSize":{"condition":{"test":"abs(datum.value*5-round(datum.value*5))<0.001","value":-11},"value":-6},"labelPadding":15,"title":null}}}},
{"data":{"name":"s39_data"},"mark":{"type":"point","shape":"M-1,-1L1,1M-1,1L1,-1","filled":false,"color":"black","strokeWidth":1.8,"size":36,"opacity":1},
 "encoding":{"x":{"field":"E","type":"quantitative","scale":{"domain":[188,199],"nice":false,"zero":false},"axis":null},
  "y":{"field":"v","type":"quantitative","scale":{"domain":[0,1.2],"nice":false},
   "axis":{"orient":"right","values":[0,0.1,0.2,0.3,0.4,0.5,0.6,0.7,0.8,0.9,1,1.1],"labels":false,"title":null,"tickSize":{"condition":{"test":"abs(datum.value*5-round(datum.value*5))<0.001","value":-11},"value":-6}}}}},
{"data":{"values":[{}]},"mark":{"type":"text","text":"DIFF. ELASTIC","font":"Liberation Mono","fontSize":29,"align":"center","baseline":"middle","color":"black"},
 "encoding":{"x":{"datum":195.99,"type":"quantitative","scale":{"domain":[188,199],"nice":false,"zero":false},"axis":null},"y":{"datum":0.958,"type":"quantitative","scale":{"domain":[0,1.2],"nice":false},"axis":null}}},
{"data":{"values":[{}]},"mark":{"type":"text","text":"SCATTERING","font":"Liberation Mono","fontSize":29,"align":"center","baseline":"middle","color":"black"},
 "encoding":{"x":{"datum":196.77,"type":"quantitative","scale":{"domain":[188,199],"nice":false,"zero":false},"axis":null},"y":{"datum":0.842,"type":"quantitative","scale":{"domain":[0,1.2],"nice":false},"axis":null}}},
{"data":{"values":[{}]},"mark":{"type":"text","text":"39°","font":"Liberation Sans","fontSize":32,"align":"center","baseline":"middle","color":"black"},
 "encoding":{"x":{"datum":197.19,"type":"quantitative","scale":{"domain":[188,199],"nice":false,"zero":false},"axis":null},"y":{"datum":0.623,"type":"quantitative","scale":{"domain":[0,1.2],"nice":false},"axis":null}}},
{"data":{"values":[{}]},"mark":{"type":"text","text":"≷","font":"DejaVu Sans","fontSize":24,"align":"center","baseline":"top","dy":4,"dx":5,"color":"black"},
 "encoding":{"x":{"datum":188,"type":"quantitative","scale":{"domain":[188,199],"nice":false,"zero":false},"axis":null},"y":{"datum":1.2,"type":"quantitative","scale":{"domain":[0,1.2],"nice":false},"axis":null}}},
{"data":{"values":[{}]},"mark":{"type":"text","text":"≷","font":"DejaVu Sans","fontSize":24,"align":"center","baseline":"top","dy":4,"dx":3,"color":"black"},
 "encoding":{"x":{"datum":199,"type":"quantitative","scale":{"domain":[188,199],"nice":false,"zero":false},"axis":null},"y":{"datum":1.2,"type":"quantitative","scale":{"domain":[0,1.2],"nice":false},"axis":null}}}
]},
{
"width":881,"height":207,
"resolve":{"axis":{"x":"independent","y":"independent"}},
"layer":[
{"data":{"name":"s90_fit"},"mark":{"type":"line","color":"black","strokeWidth":1.5},
 "encoding":{"x":{"field":"E","type":"quantitative","scale":{"domain":[188,199],"nice":false,"zero":false},"axis":null},
  "y":{"field":"v","type":"quantitative","scale":{"domain":[0,0.8],"nice":false},
   "axis":{"orient":"left","values":[0,0.1,0.2,0.3,0.4,0.5,0.6,0.7],"labelExpr":"abs(datum.value*5-round(datum.value*5))<0.001 ? format(datum.value,'.1f') : ''","tickSize":{"condition":{"test":"abs(datum.value*5-round(datum.value*5))<0.001","value":-11},"value":-6},"labelPadding":15,"title":"CRØSS SECTIØN (b/sr)","titleX":-48,"titleY":112,"titleBaseline":"middle","titleAlign":"center","titleAngle":-90}}}},
{"data":{"name":"s90_data"},"mark":{"type":"point","shape":"circle","filled":true,"color":"black","size":42,"opacity":1},
 "encoding":{"x":{"field":"E","type":"quantitative","scale":{"domain":[188,199],"nice":false,"zero":false},"axis":null},
  "y":{"field":"v","type":"quantitative","scale":{"domain":[0,0.8],"nice":false},
   "axis":{"orient":"right","values":[0,0.1,0.2,0.3,0.4,0.5,0.6,0.7],"labels":false,"title":null,"tickSize":{"condition":{"test":"abs(datum.value*5-round(datum.value*5))<0.001","value":-11},"value":-6}}}}},
{"data":{"values":[{}]},"mark":{"type":"text","text":"90°","font":"Liberation Sans","fontSize":32,"align":"center","baseline":"middle","color":"black"},
 "encoding":{"x":{"datum":197.25,"type":"quantitative","scale":{"domain":[188,199],"nice":false,"zero":false},"axis":null},"y":{"datum":0.646,"type":"quantitative","scale":{"domain":[0,0.8],"nice":false},"axis":null}}},
{"data":{"values":[{}]},"mark":{"type":"text","text":"//","font":"DejaVu Sans","fontSize":24,"angle":30,"align":"center","baseline":"top","color":"black"},
 "encoding":{"x":{"datum":188,"type":"quantitative","scale":{"domain":[188,199],"nice":false,"zero":false},"axis":null},"y":{"datum":0.8,"type":"quantitative","scale":{"domain":[0,0.8],"nice":false},"axis":null}}},
{"data":{"values":[{}]},"mark":{"type":"text","text":"//","font":"DejaVu Sans","fontSize":24,"angle":30,"align":"center","baseline":"top","color":"black"},
 "encoding":{"x":{"datum":199,"type":"quantitative","scale":{"domain":[188,199],"nice":false,"zero":false},"axis":null},"y":{"datum":0.8,"type":"quantitative","scale":{"domain":[0,0.8],"nice":false},"axis":null}}}
]},
{
"width":881,"height":207,
"resolve":{"axis":{"x":"independent","y":"independent"}},
"layer":[
{"data":{"name":"s160_fit"},"mark":{"type":"line","color":"black","strokeWidth":1.5},
 "encoding":{"x":{"field":"E","type":"quantitative","scale":{"domain":[188,199],"nice":false,"zero":false},
   "axis":{"orient":"bottom","values":[188,188.2,188.4,188.6,188.8,189,189.2,189.4,189.6,189.8,190,190.2,190.4,190.6,190.8,191,191.2,191.4,191.6,191.8,192,192.2,192.4,192.6,192.8,193,193.2,193.4,193.6,193.8,194,194.2,194.4,194.6,194.8,195,195.2,195.4,195.6,195.8,196,196.2,196.4,196.6,196.8,197,197.2,197.4,197.6,197.8,198,198.2,198.4,198.6,198.8,199],"labelExpr":"abs(datum.value-round(datum.value))<0.001 ? format(datum.value,'d') : ''","tickSize":{"condition":{"test":"abs(datum.value-round(datum.value))<0.001","value":-10},"value":-5},"labelPadding":18,"labelFont":"Liberation Sans Narrow, DejaVu Sans Condensed, Liberation Sans","labelFontWeight":"normal","labelFontSize":16,"title":"NEUTRØN ENERGY (keV)","titleFontSize":19,"titleX":436,"titleY":34,"titleBaseline":"middle","titleAlign":"center"}},
  "y":{"field":"v","type":"quantitative","scale":{"domain":[0,0.8],"nice":false},
   "axis":{"orient":"left","values":[0,0.1,0.2,0.3,0.4,0.5,0.6,0.7],"labelExpr":"abs(datum.value*5-round(datum.value*5))<0.001 ? format(datum.value,'.1f') : ''","tickSize":{"condition":{"test":"abs(datum.value*5-round(datum.value*5))<0.001","value":-11},"value":-6},"labelPadding":15,"title":null}}}},
{"data":{"name":"s160_data"},"mark":{"type":"point","shape":"M-1,-1L1,1M-1,1L1,-1","filled":false,"color":"black","strokeWidth":1.8,"size":36,"opacity":1},
 "encoding":{"x":{"field":"E","type":"quantitative","scale":{"domain":[188,199],"nice":false,"zero":false},"axis":null},
  "y":{"field":"v","type":"quantitative","scale":{"domain":[0,0.8],"nice":false},
   "axis":{"orient":"right","values":[0,0.1,0.2,0.3,0.4,0.5,0.6,0.7],"labels":false,"title":null,"tickSize":{"condition":{"test":"abs(datum.value*5-round(datum.value*5))<0.001","value":-11},"value":-6}}}}},
{"data":{"values":[{}]},"mark":{"type":"text","text":"160°","font":"Liberation Sans","fontSize":32,"align":"center","baseline":"middle","color":"black"},
 "encoding":{"x":{"datum":197.23,"type":"quantitative","scale":{"domain":[188,199],"nice":false,"zero":false},"axis":null},"y":{"datum":0.565,"type":"quantitative","scale":{"domain":[0,0.8],"nice":false},"axis":null}}},
{"data":{"values":[{}]},"mark":{"type":"text","text":"//","font":"DejaVu Sans","fontSize":24,"angle":30,"align":"center","baseline":"top","color":"black"},
 "encoding":{"x":{"datum":188,"type":"quantitative","scale":{"domain":[188,199],"nice":false,"zero":false},"axis":null},"y":{"datum":0.8,"type":"quantitative","scale":{"domain":[0,0.8],"nice":false},"axis":null}}},
{"data":{"values":[{}]},"mark":{"type":"text","text":"//","font":"DejaVu Sans","fontSize":24,"angle":30,"align":"center","baseline":"top","color":"black"},
 "encoding":{"x":{"datum":199,"type":"quantitative","scale":{"domain":[188,199],"nice":false,"zero":false},"axis":null},"y":{"datum":0.8,"type":"quantitative","scale":{"domain":[0,0.8],"nice":false},"axis":null}}}
]}
]
}
